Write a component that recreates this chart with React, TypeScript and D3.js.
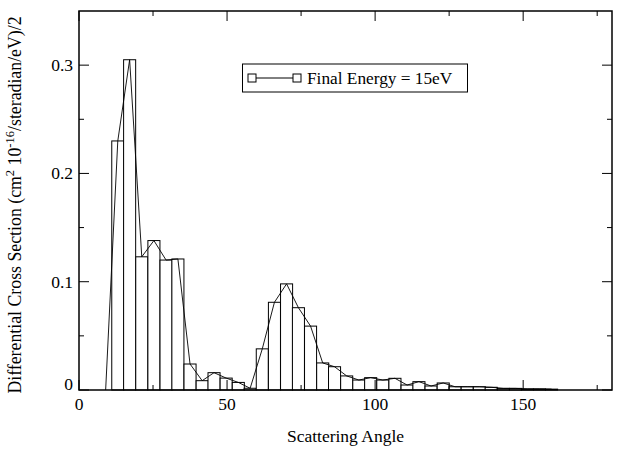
import React from "react";
import * as d3 from "d3";

const width = 628;
const height = 449;
const margin = { top: 11, right: 16, bottom: 59, left: 79 };

// scattering angle (deg) of each bin centre; the first point is the zero start of the line
const angles = [
  9, 13.1, 17.1, 21.2, 25.3, 29.4, 33.4, 37.5, 41.6, 45.6, 49.7, 53.8, 57.8, 61.9, 66.0, 70.1,
  74.1, 78.2, 82.3, 86.3, 90.4, 94.5, 98.5, 102.6, 106.7, 110.8, 114.8, 118.9, 123.0, 127.0,
  131.1, 135.2, 139.2, 143.3, 147.4, 151.4, 155.5, 159.6,
];
const values = [
  0, 0.23, 0.305, 0.123, 0.138, 0.12, 0.121, 0.024, 0.0086, 0.016, 0.011, 0.007, 0.0016, 0.038,
  0.081, 0.098, 0.076, 0.059, 0.025, 0.0215, 0.013, 0.0092, 0.0114, 0.0092, 0.0108, 0.0046,
  0.0077, 0.0037, 0.0065, 0.003, 0.003, 0.003, 0.0025, 0.0015, 0.0015, 0.001, 0.001, 0.0008,
];
const binWidth = 4.07;

const xTicks = [0, 50, 100, 150];
const xMinor = [25, 75, 125, 175];
const yTicks = [0, 0.1, 0.2, 0.3];
const yMinor = [0.05, 0.15, 0.25];

const legendLabel = "Final Energy = 15eV";
const font = "'Liberation Serif', 'Times New Roman', serif";

const App = () => {
  const x = d3.scaleLinear().domain([0, 180]).range([margin.left, width - margin.right]);
  const y = d3.scaleLinear().domain([0, 0.35]).range([height - margin.bottom, margin.top]);

  const points = angles.map((a, i) => ({ a, v: values[i] }));
  const line = d3
    .line<{ a: number; v: number }>()
    .x((d) => x(d.a))
    .y((d) => y(d.v));

  const x0 = margin.left;
  const x1 = width - margin.right;
  const y0 = height - margin.bottom;
  const y1 = margin.top;

  return (
    <svg
      width={width}
      height={height}
      style={{ position: "absolute", left: 0, top: 0, background: "#fff" }}
      fontFamily={font}
    >
      {/* bars */}
      {points.slice(1).map((d, i) => (
        <rect
          key={i}
          x={x(d.a - binWidth / 2)}
          y={y(d.v)}
          width={x(binWidth) - x(0)}
          height={y0 - y(d.v)}
          fill="#fff"
          stroke="#000"
          strokeWidth={1}
        />
      ))}
      <path d={line(points) ?? ""} fill="none" stroke="#000" strokeWidth={0.9} />

      {/* frame */}
      <rect x={x0} y={y1} width={x1 - x0} height={y0 - y1} fill="none" stroke="#000" strokeWidth={1.5} />

      {/* ticks, inward on all sides */}
      {xTicks.map((t) => (
        <g key={"xt" + t}>
          <line x1={x(t)} x2={x(t)} y1={y0} y2={y0 - 10} stroke="#000" />
          <line x1={x(t)} x2={x(t)} y1={y1} y2={y1 + 10} stroke="#000" />
          <text x={x(t)} y={y0 + 20} textAnchor="middle" fontSize={17.5}>
            {t}
          </text>
        </g>
      ))}
      {xMinor.map((t) => (
        <g key={"xm" + t}>
          <line x1={x(t)} x2={x(t)} y1={y0} y2={y0 - 5} stroke="#000" />
          <line x1={x(t)} x2={x(t)} y1={y1} y2={y1 + 5} stroke="#000" />
        </g>
      ))}
      {yTicks.map((t) => (
        <g key={"yt" + t}>
          <line x1={x0} x2={x0 + 10} y1={y(t)} y2={y(t)} stroke="#000" />
          <line x1={x1} x2={x1 - 10} y1={y(t)} y2={y(t)} stroke="#000" />
          <text x={x0 - 6} y={y(t) + (t === 0 ? 0 : 6)} textAnchor="end" fontSize={17.5}>
            {t === 0 ? "0" : d3.format(".1f")(t)}
          </text>
        </g>
      ))}
      {yMinor.map((t) => (
        <g key={"ym" + t}>
          <line x1={x0} x2={x0 + 5} y1={y(t)} y2={y(t)} stroke="#000" />
          <line x1={x1} x2={x1 - 5} y1={y(t)} y2={y(t)} stroke="#000" />
        </g>
      ))}

      {/* axis titles */}
      <text x={(x0 + x1) / 2} y={442} textAnchor="middle" fontSize={17.5}>
        Scattering Angle
      </text>
      <text transform={`translate(21, 205) rotate(-90)`} textAnchor="middle" fontSize={17.8}>
        Differential Cross Section (cm
        <tspan baselineShift="super" fontSize={12.5}>2</tspan>
        {" 10"}
        <tspan baselineShift="super" fontSize={12.5}>-16</tspan>
        /steradian/eV)/2
      </text>

      {/* legend */}
      <g>
        <rect x={242.5} y={64} width={225} height={28} fill="#fff" stroke="#000" strokeWidth={1} />
        <line x1={252} x2={297} y1={78} y2={78} stroke="#000" />
        <rect x={248} y={74} width={8} height={8} fill="#fff" stroke="#000" />
        <rect x={293} y={74} width={8} height={8} fill="#fff" stroke="#000" />
        <text x={307} y={84} fontSize={17.3}>
          {legendLabel}
        </text>
      </g>
    </svg>
  );
};

export default App;
